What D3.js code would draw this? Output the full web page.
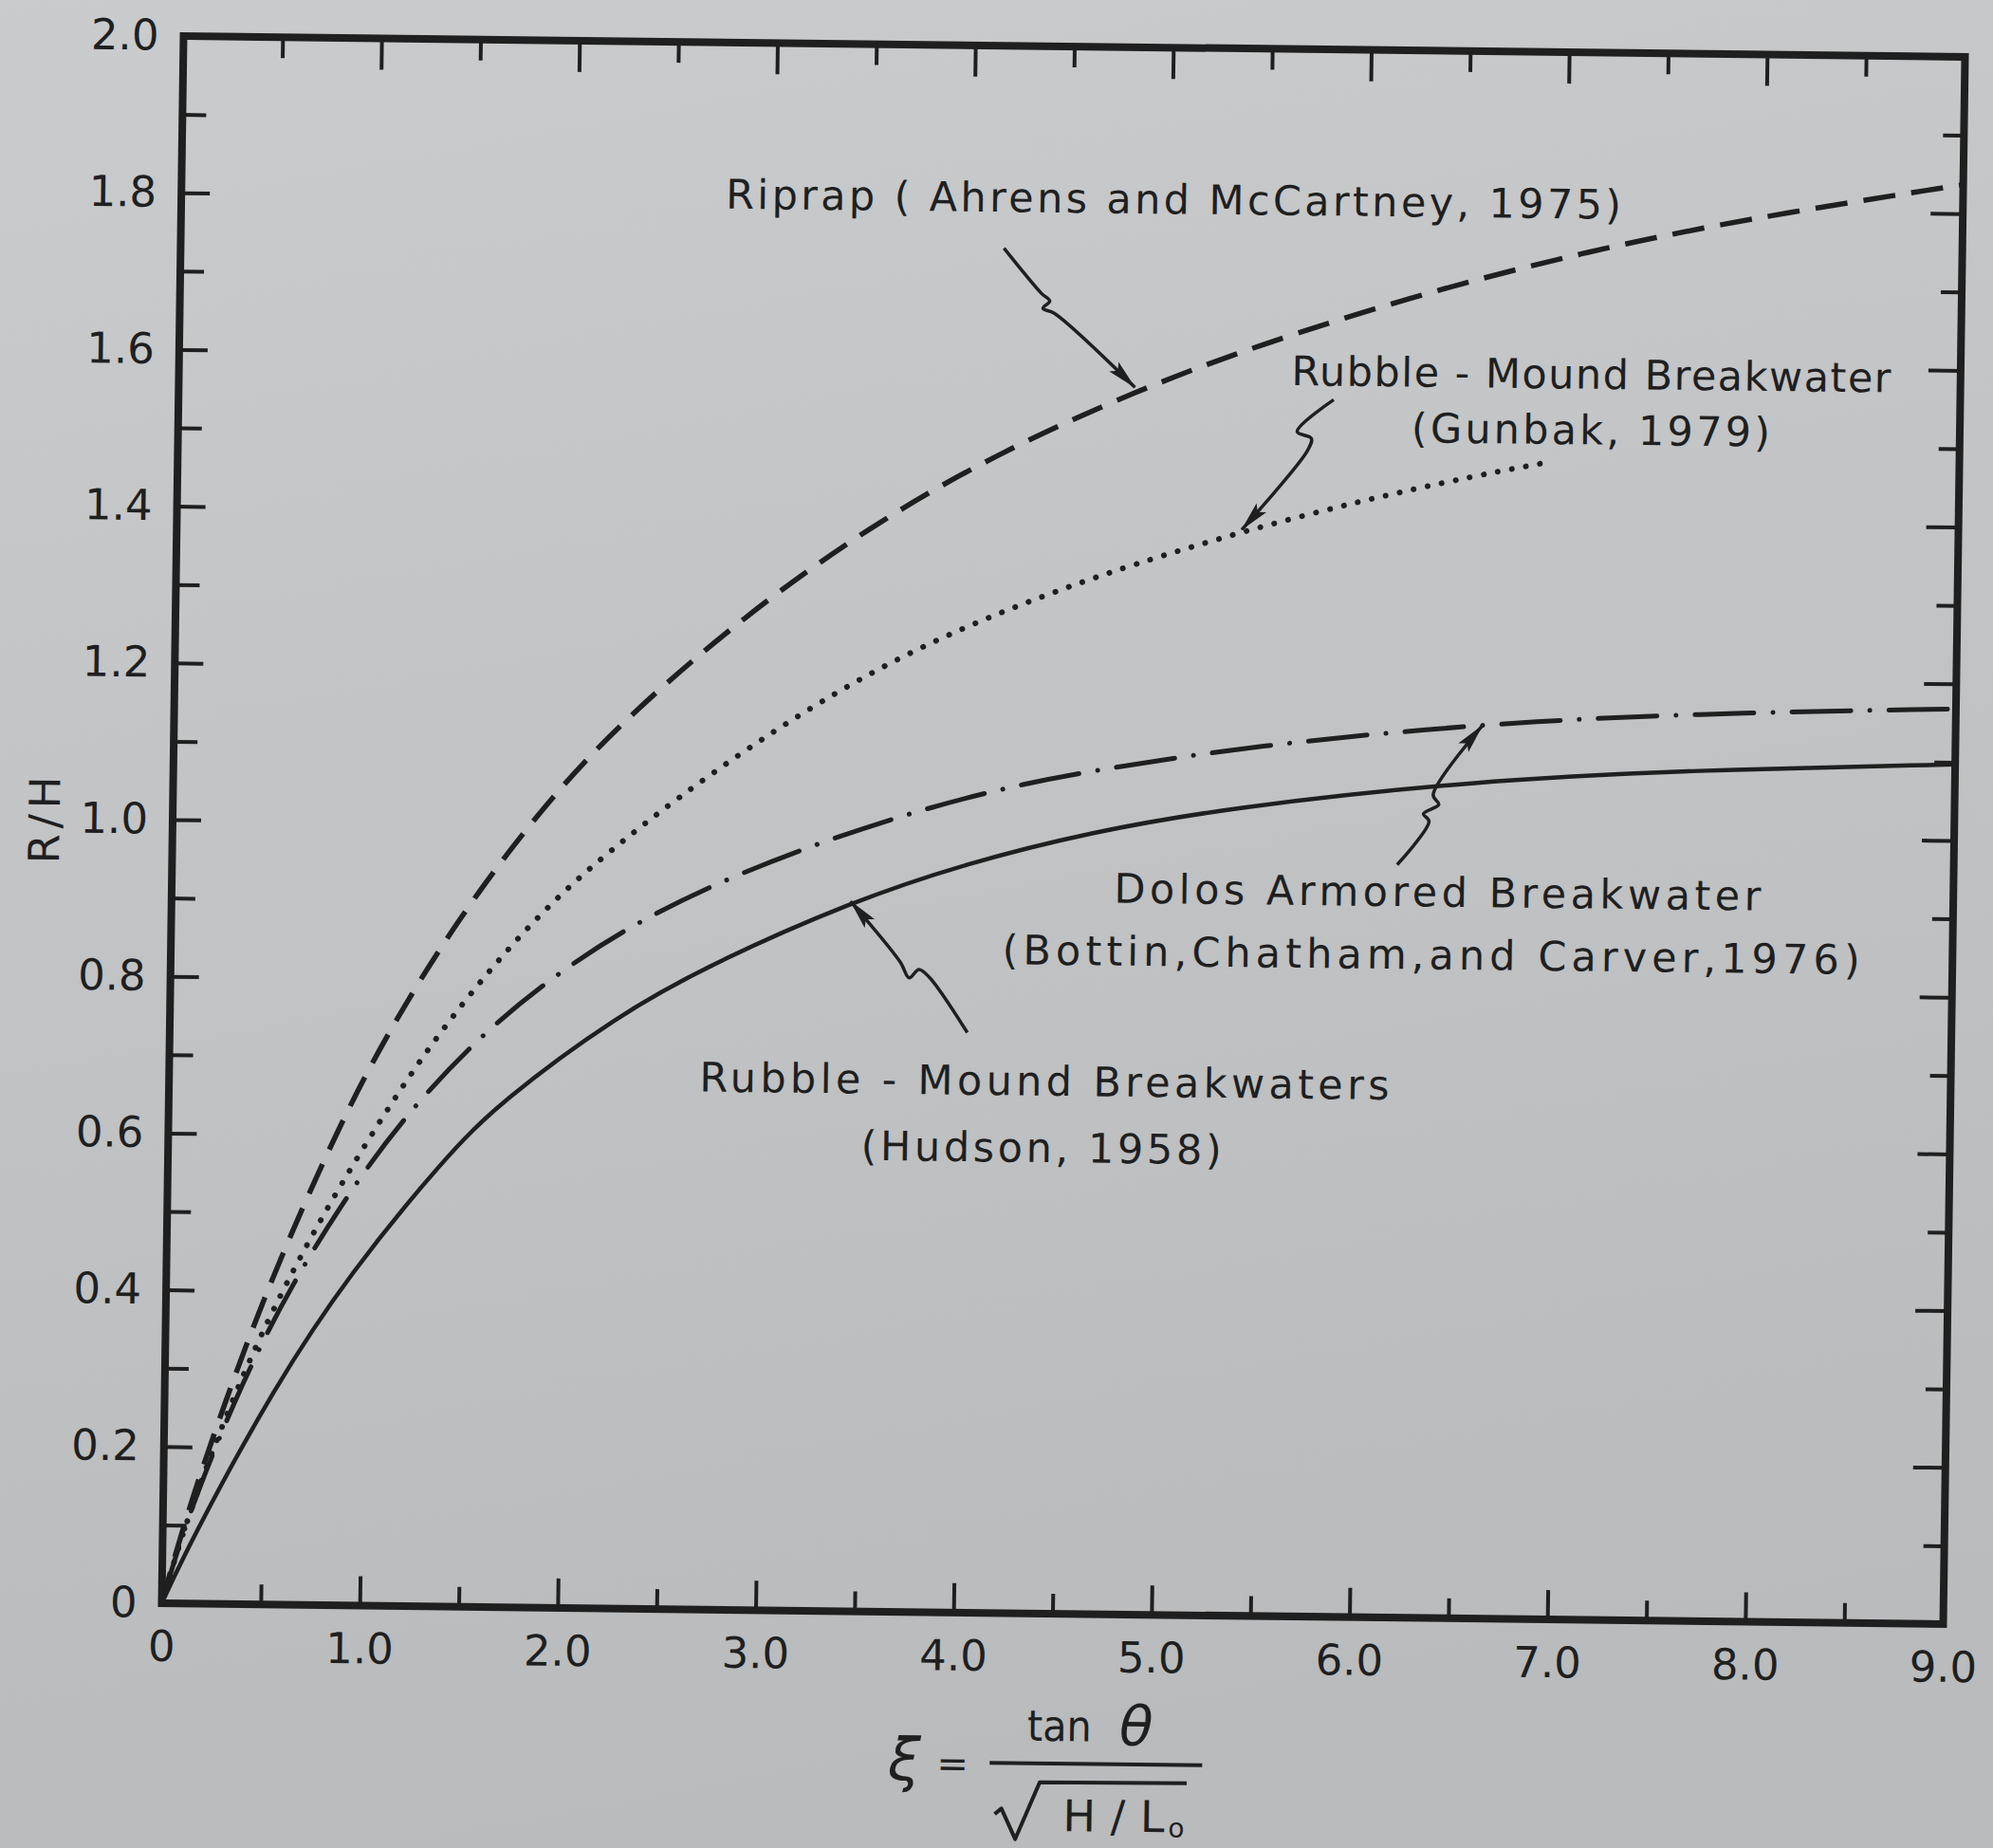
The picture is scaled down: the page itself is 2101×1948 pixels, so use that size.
<!DOCTYPE html>
<html>
<head>
<meta charset="utf-8">
<script src="https://cdn.jsdelivr.net/npm/d3@7"></script>
<style>
html,body{margin:0;padding:0;background:#c1c3c5;}
svg{display:block;}
</style>
</head>
<body>
<svg id="chart" width="2101" height="1948"></svg>
<script>
// ---------------- data ----------------
const xTicksMajor = [0, 1, 2, 3, 4, 5, 6, 7, 8, 9];
const xTickLabels = ["0", "1.0", "2.0", "3.0", "4.0", "5.0", "6.0", "7.0", "8.0", "9.0"];
const xTicksMinor = [0.5, 1.5, 2.5, 3.5, 4.5, 5.5, 6.5, 7.5, 8.5];
const yTicksMajor = [0, 0.2, 0.4, 0.6, 0.8, 1.0, 1.2, 1.4, 1.6, 1.8, 2.0];
const yTickLabels = ["0", "0.2", "0.4", "0.6", "0.8", "1.0", "1.2", "1.4", "1.6", "1.8", "2.0"];
const yTicksMinor = [0.1, 0.3, 0.5, 0.7, 0.9, 1.1, 1.3, 1.5, 1.7, 1.9];

// Riprap (Ahrens and McCartney, 1975) - dashed
const riprapX = [0, 0.13, 0.41, 0.64, 0.86, 1.08, 1.45, 1.91, 2.30, 2.87, 3.50, 4.14, 4.83, 5.44, 6.26, 7.08, 7.90, 9.0];
const riprapY = [0, 0.125, 0.336, 0.482, 0.609, 0.722, 0.880, 1.036, 1.141, 1.268, 1.385, 1.480, 1.561, 1.621, 1.689, 1.745, 1.790, 1.837];

// Rubble-mound breakwater (Gunbak, 1979) - dotted
const gunbakX = [0, 0.13, 0.40, 0.64, 0.86, 1.14, 1.39, 1.71, 2.02, 2.30, 2.56, 2.88, 3.20, 3.51, 3.83, 4.15, 4.47, 4.80, 5.37, 6.00, 6.55, 6.93];
const gunbakY = [0, 0.117, 0.301, 0.428, 0.531, 0.649, 0.742, 0.844, 0.925, 0.985, 1.037, 1.096, 1.150, 1.197, 1.239, 1.275, 1.307, 1.337, 1.383, 1.426, 1.458, 1.477];

// Dolos armored breakwater (Bottin, Chatham and Carver, 1976) - dash-dot
const dolosX = [0, 0.13, 0.40, 0.644, 0.90, 1.18, 1.59, 2.03, 2.35, 2.73, 3.27, 3.84, 4.32, 4.64, 5.46, 6.61, 7.66, 9.0];
const dolosY = [0, 0.117, 0.290, 0.413, 0.520, 0.622, 0.736, 0.824, 0.875, 0.925, 0.981, 1.029, 1.060, 1.076, 1.111, 1.142, 1.158, 1.168];

// Rubble-mound breakwaters (Hudson, 1958) - solid
const hudsonX = [0, 0.15, 0.556, 0.93, 1.40, 1.67, 2.26, 2.73, 3.43, 4.01, 4.64, 5.33, 6.57, 7.67, 9.0];
const hudsonY = [0, 0.084, 0.279, 0.425, 0.573, 0.644, 0.757, 0.824, 0.905, 0.956, 0.998, 1.031, 1.069, 1.086, 1.097];

// annotation texts and their anchor (data units)
const noteTexts = ["Riprap ( Ahrens and McCartney, 1975)", "Rubble - Mound Breakwater", "(Gunbak, 1979)",
                   "Dolos Armored Breakwater", "(Bottin,Chatham,and Carver,1976)",
                   "Rubble - Mound Breakwaters", "(Hudson, 1958)"];
const noteX = [2.75, 5.62, 6.23, 4.76, 4.20, 2.68, 3.50];
const noteY = [1.788, 1.571, 1.500, 0.908, 0.828, 0.661, 0.576];
// arrow tips (data units), one per curve label
const arrowTipX = [4.83, 5.38, 6.61, 3.43];
const arrowTipY = [1.566, 1.386, 1.140, 0.906];

// ---------------- layout ----------------
const W = 1878, H = 1652;
const ink = "#1f1f1f";
const font = "'DejaVu Sans', Verdana, sans-serif";
const noteWidths = [944, 632, 378, 682, 904, 727, 380];
// lightning-bolt leader shapes, pixel offsets from the arrow tip (tail -> tip)
const arrowShapes = [
  [[-140, -145], [-100, -98], [-91, -90], [-98, -82], [-86, -77], [0, 0]],
  [[95, -138], [57, -104], [72, -97], [68, -84], [0, 0]],
  [[-88, 148], [-55, 102], [-61, 94], [-45, 84], [-51, 74], [0, 0]],
  [[125, 137], [84, 79], [73, 71], [63, 80], [53, 63], [0, 0]]
];

const svg = d3.select("#chart");
const defs = svg.append("defs");
const grad = defs.append("linearGradient").attr("id", "bg").attr("x1", 0).attr("y1", 0).attr("x2", 0.2).attr("y2", 1);
grad.append("stop").attr("offset", "0%").attr("stop-color", "#c9cbcd");
grad.append("stop").attr("offset", "100%").attr("stop-color", "#b9bbbd");
defs.append("marker").attr("id", "arrow").attr("markerUnits", "userSpaceOnUse")
  .attr("viewBox", "0 0 32 16").attr("markerWidth", 32).attr("markerHeight", 16)
  .attr("refX", 31).attr("refY", 8).attr("orient", "auto")
  .append("path").attr("d", "M0,1 L32,8 L0,15 L6,8 Z").attr("fill", ink);

svg.append("rect").attr("width", 2101).attr("height", 1948).attr("fill", "url(#bg)");

// slight skew of the photographed page
const g = svg.append("g").attr("transform", "matrix(1,0.01171,-0.01392,1,193.5,38)");

const x = d3.scaleLinear().domain([0, 9]).range([0, W]);
const y = d3.scaleLinear().domain([0, 2]).range([H, 0]);

// ---------------- curves ----------------
const series = [
  {xs: riprapX, ys: riprapY, width: 5.5, dash: "34 17", cap: "butt"},
  {xs: gunbakX, ys: gunbakY, width: 6, dash: "0.1 15", cap: "round"},
  {xs: dolosX, ys: dolosY, width: 5, dash: "62 20 0.1 20", cap: "round"},
  {xs: hudsonX, ys: hudsonY, width: 4.5, dash: null, cap: "round"}
];
const line = d3.line().x(d => x(d[0])).y(d => y(d[1])).curve(d3.curveBasis);
series.forEach(s => {
  g.append("path").datum(d3.zip(s.xs, s.ys)).attr("d", line)
    .attr("fill", "none").attr("stroke", ink).attr("stroke-width", s.width)
    .attr("stroke-dasharray", s.dash).attr("stroke-linecap", s.cap);
});

// ---------------- axes ----------------
function styleAxis(sel) {
  sel.select(".domain").remove();
  sel.attr("font-family", font).attr("font-size", 45).attr("color", ink);
  sel.selectAll(".tick line").attr("stroke-width", 4);
}
g.append("g").attr("transform", `translate(0,${H})`)
  .call(d3.axisBottom(x).tickValues(xTicksMajor).tickSize(-31).tickPadding(29).tickFormat((d, i) => xTickLabels[i])).call(styleAxis);
g.append("g").attr("transform", `translate(0,${H})`)
  .call(d3.axisBottom(x).tickValues(xTicksMinor).tickSize(-21).tickFormat("")).call(styleAxis);
g.append("g").call(d3.axisTop(x).tickValues(xTicksMajor).tickSize(-33).tickFormat("")).call(styleAxis);
g.append("g").call(d3.axisTop(x).tickValues(xTicksMinor).tickSize(-22).tickFormat("")).call(styleAxis);
g.append("g").call(d3.axisLeft(y).tickValues(yTicksMajor).tickSize(-30).tickPadding(26).tickFormat((d, i) => yTickLabels[i])).call(styleAxis);
g.append("g").call(d3.axisLeft(y).tickValues(yTicksMinor).tickSize(-25).tickFormat("")).call(styleAxis);
g.append("g").attr("transform", `translate(${W},0)`).call(d3.axisRight(y).tickValues(yTicksMajor).tickSize(-34).tickFormat("")).call(styleAxis);
g.append("g").attr("transform", `translate(${W},0)`).call(d3.axisRight(y).tickValues(yTicksMinor).tickSize(-22).tickFormat("")).call(styleAxis);

g.append("rect").attr("x", 0).attr("y", 0).attr("width", W).attr("height", H)
  .attr("fill", "none").attr("stroke", ink).attr("stroke-width", 8);

// ---------------- annotations ----------------
noteTexts.forEach((t, i) => {
  g.append("text").attr("x", x(noteX[i])).attr("y", y(noteY[i]))
    .attr("font-family", font).attr("font-size", 43).attr("fill", ink)
    .attr("textLength", noteWidths[i]).attr("lengthAdjust", "spacing").text(t);
});
const bolt = d3.line().curve(d3.curveCatmullRom.alpha(0.5));
arrowShapes.forEach((shape, i) => {
  const tx = x(arrowTipX[i]), ty = y(arrowTipY[i]);
  g.append("path").attr("d", bolt(shape.map(p => [tx + p[0], ty + p[1]])))
    .attr("fill", "none").attr("stroke", ink).attr("stroke-width", 3.5)
    .attr("stroke-linejoin", "round").attr("marker-end", "url(#arrow)");
});

// ---------------- axis titles ----------------
g.append("text").attr("transform", `translate(-135,${H / 2 + 2}) rotate(-90)`)
  .attr("text-anchor", "middle").attr("dy", "0.35em")
  .attr("font-family", font).attr("font-size", 45).attr("fill", ink)
  .attr("textLength", 92).attr("lengthAdjust", "spacing").text("R/H");

const tg = g.append("g").attr("transform", `translate(${x(4.73)},${H + 158})`)
  .attr("font-family", font).attr("fill", ink);
tg.append("text").attr("x", -202).attr("y", 19).attr("text-anchor", "middle").attr("font-size", 62).attr("font-style", "italic").text("ξ");
tg.append("text").attr("x", -151).attr("y", 15).attr("text-anchor", "middle").attr("font-size", 40).text("=");
tg.append("line").attr("x1", -112).attr("x2", 112).attr("y1", 0).attr("y2", 0).attr("stroke", ink).attr("stroke-width", 4);
tg.append("text").attr("x", -73).attr("y", -24).attr("font-size", 45).attr("textLength", 68).attr("lengthAdjust", "spacingAndGlyphs").text("tan");
tg.append("text").attr("x", 42).attr("y", -20).attr("text-anchor", "middle").attr("font-size", 58).attr("font-style", "italic").text("θ");
tg.append("path").attr("d", d3.line()([[-106, 54], [-99, 48], [-84, 80], [-59, 20], [96, 19]]))
  .attr("fill", "none").attr("stroke", ink).attr("stroke-width", 4).attr("stroke-linejoin", "round");
tg.append("text").attr("x", -34).attr("y", 71).attr("font-size", 46).attr("textLength", 107).attr("lengthAdjust", "spacing").text("H/L");
tg.append("text").attr("x", 77).attr("y", 76).attr("font-size", 28).text("o");
</script>
</body>
</html>
